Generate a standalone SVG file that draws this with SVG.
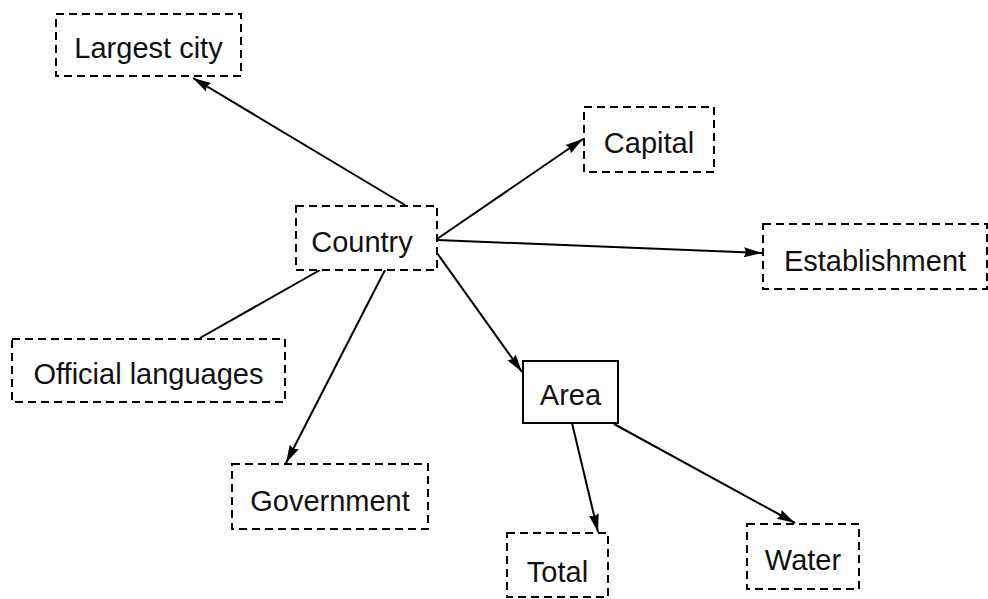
<svg xmlns="http://www.w3.org/2000/svg" width="988" height="599" viewBox="0 0 988 599">
  <style>
    .box { fill: #fff; stroke: #000; stroke-width: 2; stroke-dasharray: 8 5; }
    .solid { fill: #fff; stroke: #000; stroke-width: 2; }
    .label { font-family: "Liberation Sans", Arial, sans-serif; font-size: 29px; fill: #111; text-anchor: middle; }
    .edge { fill: none; stroke: #000; stroke-width: 2; }
    .arrow { marker-end: url(#head); }
  </style>
  <defs>
    <marker id="head" markerUnits="userSpaceOnUse" markerWidth="18" markerHeight="12" viewBox="0 0 18 12" refX="18" refY="6" orient="auto">
      <path d="M0,1 L18,6 L0,11 L2,6 Z" fill="#000"/>
    </marker>
  </defs>
  <rect width="988" height="599" fill="#fff"/>

  <g id="connectors">
    <line class="edge arrow" x1="405" y1="205" x2="193" y2="78"/>
    <line class="edge arrow" x1="437" y1="239" x2="583" y2="139"/>
    <line class="edge arrow" x1="437" y1="240" x2="762" y2="253"/>
    <line class="edge" x1="320" y1="270" x2="200" y2="338"/>
    <line class="edge arrow" x1="385" y1="270" x2="286" y2="463"/>
    <line class="edge arrow" x1="437" y1="253" x2="522" y2="372"/>
    <line class="edge arrow" x1="572" y1="423" x2="598" y2="532"/>
    <line class="edge arrow" x1="614" y1="424" x2="795" y2="523"/>
  </g>

  <g id="largest-city">
    <rect class="box" x="56" y="14" width="185" height="62"/>
    <text class="label" x="148.5" y="58">Largest city</text>
  </g>
  <g id="country">
    <rect class="box" x="296" y="206" width="141" height="64"/>
    <text class="label" x="362" y="252">Country</text>
  </g>
  <g id="capital">
    <rect class="box" x="584" y="107" width="130" height="65"/>
    <text class="label" x="649" y="153">Capital</text>
  </g>
  <g id="establishment">
    <rect class="box" x="763" y="224" width="224" height="65"/>
    <text class="label" x="875" y="271">Establishment</text>
  </g>
  <g id="official-languages">
    <rect class="box" x="12" y="339" width="273" height="63"/>
    <text class="label" x="148.5" y="384">Official languages</text>
  </g>
  <g id="area">
    <rect class="solid" x="523" y="361" width="95" height="62"/>
    <text class="label" x="570.5" y="405">Area</text>
  </g>
  <g id="government">
    <rect class="box" x="232" y="464" width="196" height="65"/>
    <text class="label" x="330" y="511">Government</text>
  </g>
  <g id="total">
    <rect class="box" x="507" y="533" width="101" height="64"/>
    <text class="label" x="557.5" y="582">Total</text>
  </g>
  <g id="water">
    <rect class="box" x="747" y="524" width="112" height="65"/>
    <text class="label" x="803" y="570">Water</text>
  </g>
</svg>
